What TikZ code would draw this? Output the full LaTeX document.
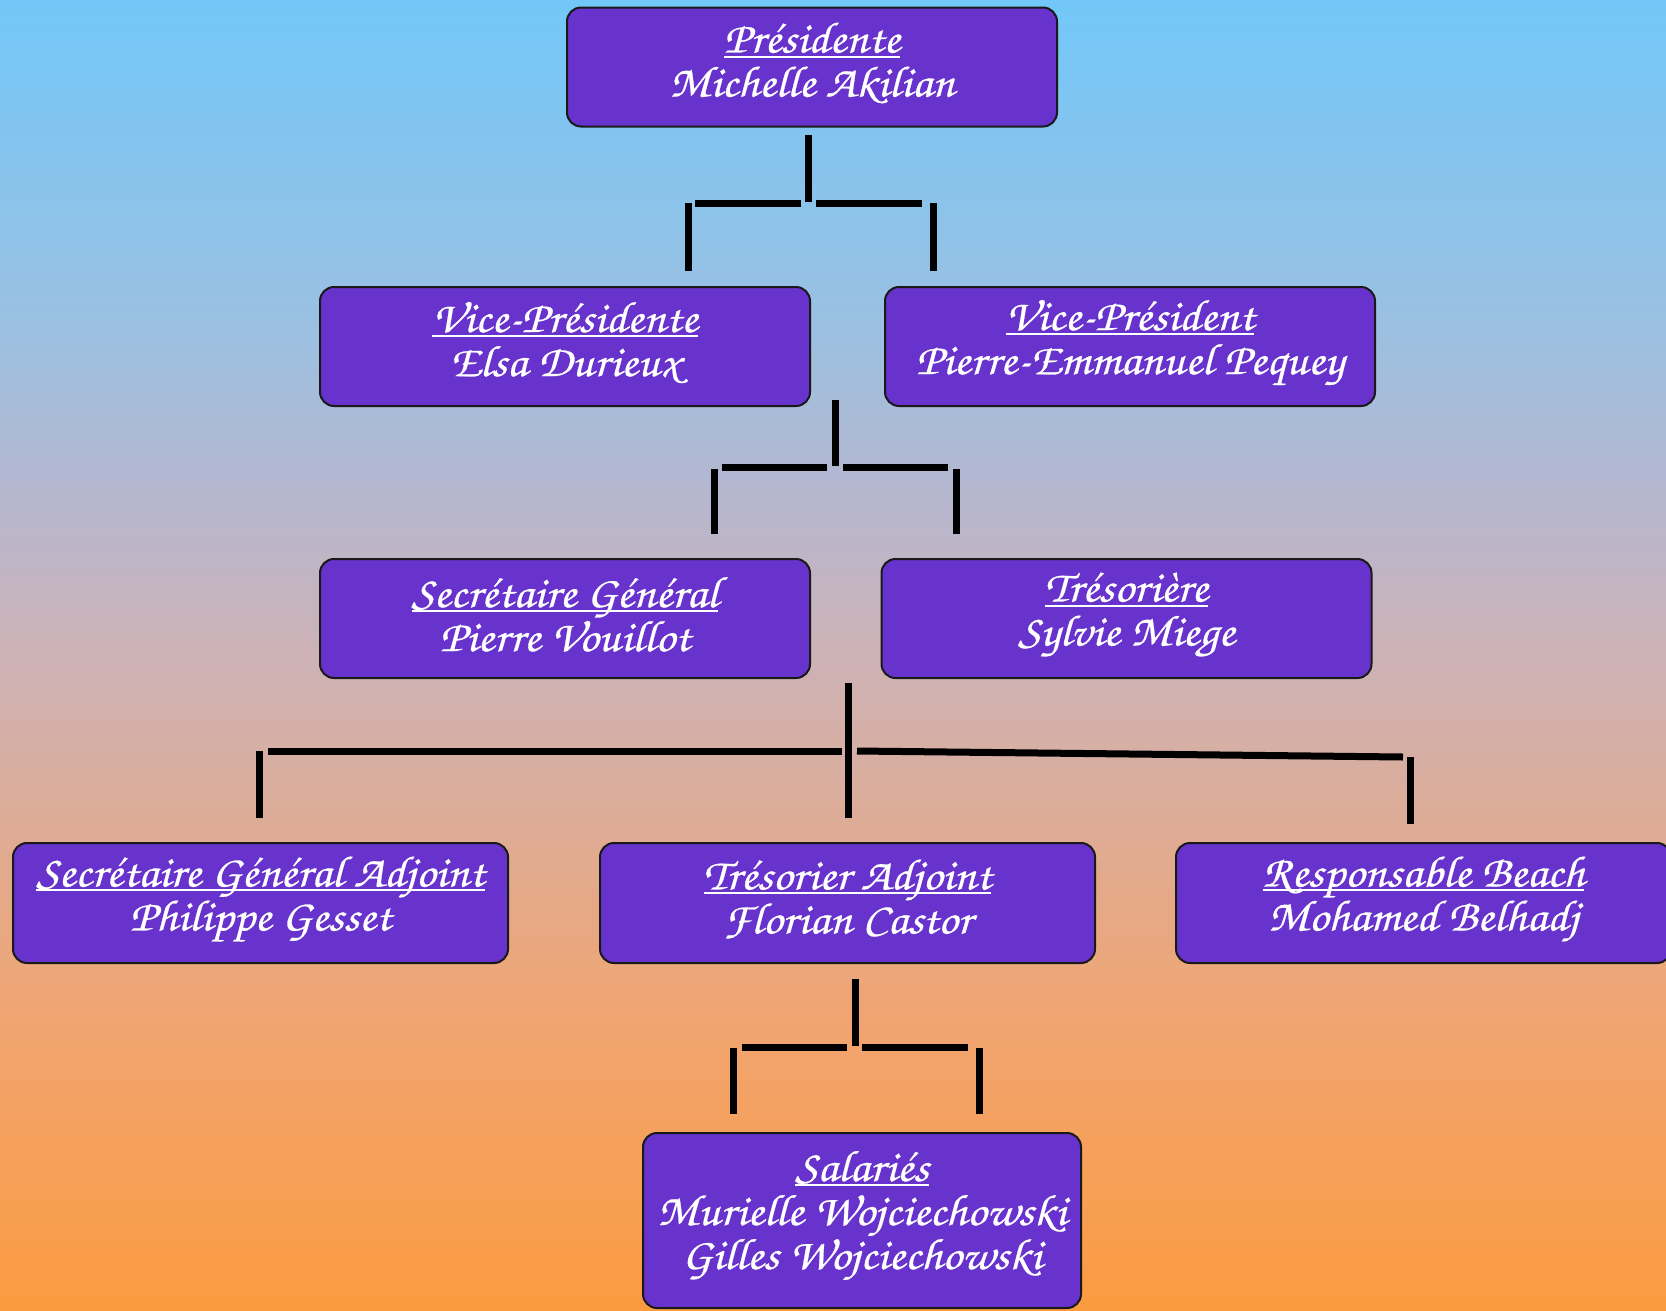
\documentclass[tikz,border=0pt]{standalone}
\usepackage{fontspec}
\setmainfont{TeX Gyre Chorus}[FakeStretch=1.1, FakeBold=0.6]
\newcommand{\myul}[1]{\setbox0\hbox{#1}\rlap{\rule[-5pt]{\wd0}{2pt}}\box0}
\definecolor{boxc}{RGB}{103,51,204}
\definecolor{bga}{RGB}{114,199,248}
\definecolor{bgb}{RGB}{155,192,225}
\definecolor{bgc}{RGB}{180,183,208}
\definecolor{bgd}{RGB}{205,178,182}
\definecolor{bge}{RGB}{240,165,115}
\definecolor{bgf}{RGB}{251,155,64}
\pgfdeclareverticalshading{bgshade}{100bp}{color(0bp)=(bgf); color(25bp)=(bgf); color(36.5bp)=(bge); color(50bp)=(bgd); color(56.5bp)=(bgc); color(62.5bp)=(bgb); color(75bp)=(bga); color(100bp)=(bga)}
\begin{document}
\begin{tikzpicture}[x=1pt,y=-1pt,
  box/.style={draw=black!90, line width=2pt, fill=boxc, rounded corners=14pt,
    minimum width=490pt, minimum height=119pt, inner sep=0pt},
  txt/.style={text=white, align=center, font=\fontsize{44}{44}\selectfont, inner sep=0pt},
  bar/.style={line width=7pt, draw=black}]
\useasboundingbox (0,0) rectangle (1666,1310);
\shade[shading=bgshade] (0,0) rectangle (1666,1310);

\node[box] (pres) at (812,67) {};
\node[box] (vp1) at (565,346.5) {};
\node[box] (vp2) at (1130,346.5) {};
\node[box] (sg) at (565,618.5) {};
\node[box] (tr) at (1126.5,618.5) {};
\node[box, minimum width=495pt, minimum height=120pt] (sga) at (260.5,903) {};
\node[box, minimum width=495pt, minimum height=120pt] (ta) at (847.5,903) {};
\node[box, minimum width=495pt, minimum height=120pt] (rb) at (1423.5,903) {};
\node[box, minimum width=438pt, minimum height=175pt] (sal) at (862,1220.5) {};

\node[txt] (pres-t) at ([yshift=4pt]pres.center) {\myul{Présidente}\\Michelle Akilian};
\node[txt] (vp1-t) at ([yshift=4pt]vp1.center) {\myul{Vice-Présidente}\\Elsa Durieux};
\node[txt] (vp2-t) at ([yshift=4pt]vp2.center) {\myul{Vice-Président}\\Pierre-Emmanuel Pequey};
\node[txt] (sg-t) at ([yshift=4pt]sg.center) {\myul{Secrétaire Général}\\Pierre Vouillot};
\node[txt] (tr-t) at ([yshift=4pt]tr.center) {\myul{Trésorière}\\Sylvie Miege};
\node[txt] (sga-t) at ([yshift=4pt]sga.center) {\myul{Secrétaire Général Adjoint}\\Philippe Gesset};
\node[txt] (ta-t) at ([yshift=4pt]ta.center) {\myul{Trésorier Adjoint}\\Florian Castor};
\node[txt] (rb-t) at ([yshift=4pt]rb.center) {\myul{Responsable Beach}\\Mohamed Belhadj};
\node[txt] (sal-t) at ([yshift=5pt]sal.center) {\myul{Salariés}\\Murielle Wojciechowski\\Gilles Wojciechowski};

% level 1 connectors
\draw[bar] (808,135) -- (808,202);
\draw[bar] (695,203) -- (801,203);
\draw[bar] (816,203) -- (922,203);
\draw[bar] (688,203) -- (688,271);
\draw[bar] (933,203) -- (933,271);
% level 2
\draw[bar] (835,400) -- (835,466);
\draw[bar] (722,467) -- (827,467);
\draw[bar] (843,467) -- (948,467);
\draw[bar] (714,469) -- (714,534);
\draw[bar] (956,469) -- (956,534);
% level 3
\draw[bar] (848,683) -- (848,818);
\draw[bar] (268,751) -- (842,751);
\draw[bar] (857,751) -- (1403,757);
\draw[bar] (259,751) -- (259,818);
\draw[bar] (1410,757) -- (1410,824);
% level 4
\draw[bar] (855,979) -- (855,1046);
\draw[bar] (742,1047) -- (847,1047);
\draw[bar] (862,1047) -- (968,1047);
\draw[bar] (733,1048) -- (733,1114);
\draw[bar] (979,1048) -- (979,1114);
\end{tikzpicture}
\end{document}
